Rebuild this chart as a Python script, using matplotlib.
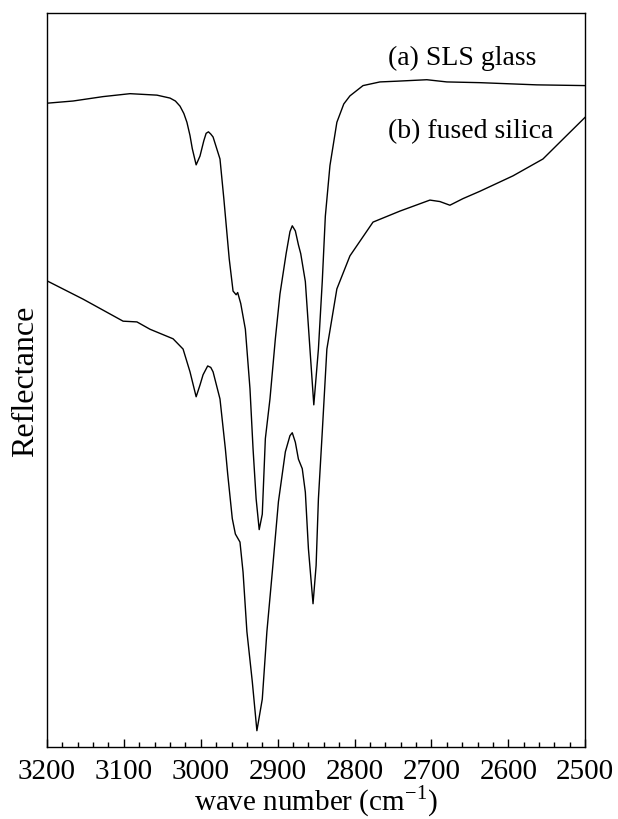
import matplotlib
matplotlib.use("Agg")
import matplotlib.pyplot as plt
from matplotlib.ticker import MultipleLocator

plt.rcParams["font.family"] = ["Liberation Serif", "DejaVu Serif"]
plt.rcParams["mathtext.fontset"] = "custom"
plt.rcParams["mathtext.rm"] = "Liberation Serif"

# (a) SLS glass (arbitrary reflectance units)
wn_a = [3200, 3166, 3127, 3092, 3057, 3040, 3033, 3027, 3022, 3018, 3014, 3011,
        3006, 3001, 2996, 2993, 2990, 2987, 2984, 2975, 2970, 2963, 2958, 2954,
        2952, 2948, 2942, 2936, 2932, 2928, 2924, 2920, 2916, 2910, 2903, 2897,
        2889, 2884, 2881, 2877, 2873, 2870, 2864, 2858, 2853, 2847, 2842, 2838,
        2832, 2823, 2814, 2806, 2789, 2767, 2745, 2706, 2680, 2637, 2563, 2500]
refl_a = [87.7, 88.0, 88.6, 89.0, 88.8, 88.4, 88.0, 87.3, 86.3, 85.1, 83.3, 81.5,
          79.3, 80.5, 82.6, 83.6, 83.8, 83.5, 83.1, 80.1, 74.7, 66.5, 62.1, 61.6,
          61.9, 60.4, 56.9, 48.8, 40.6, 33.8, 29.6, 31.7, 42.0, 47.4, 55.6, 61.7,
          67.2, 70.2, 71.0, 70.3, 68.4, 67.2, 63.4, 54.2, 46.6, 54.2, 63.4, 72.3,
          79.2, 85.1, 87.6, 88.7, 90.1, 90.6, 90.7, 90.9, 90.6, 90.5, 90.2, 90.1]

# (b) fused silica
wn_b = [3200, 3153, 3101, 3083, 3066, 3036, 3023, 3014, 3006, 3001, 2997, 2991,
        2987, 2984, 2975, 2968, 2965, 2959, 2955, 2949, 2945, 2940, 2933, 2927,
        2920, 2914, 2907, 2899, 2890, 2884, 2881, 2877, 2873, 2868, 2864, 2860,
        2854, 2850, 2847, 2842, 2836, 2823, 2806, 2776, 2741, 2702, 2689, 2676,
        2659, 2637, 2594, 2555, 2529, 2500]
refl_b = [63.5, 61.0, 58.0, 57.9, 56.9, 55.6, 54.2, 51.1, 47.7, 49.3, 50.7, 51.9,
          51.7, 51.1, 47.4, 40.6, 37.2, 31.1, 29.0, 27.9, 23.8, 15.7, 8.9, 2.2,
          6.5, 15.7, 23.8, 33.4, 40.2, 42.4, 42.8, 41.5, 39.2, 37.9, 34.7, 27.0,
          19.5, 24.7, 33.8, 42.9, 54.2, 62.4, 66.9, 71.5, 73.0, 74.5, 74.3, 73.8,
          74.7, 75.7, 77.8, 80.1, 82.8, 85.8]

labels = ["(a) SLS glass", "(b) fused silica"]

fig = plt.figure(figsize=(6.18, 8.2), dpi=100)
ax = fig.add_axes([0.076, 0.088, 0.871, 0.895])

ax.plot(wn_a, refl_a, color="black", lw=1.0)
ax.plot(wn_b, refl_b, color="black", lw=1.0)

ax.text(2756, 94.0, labels[0], fontsize=20, va="center", ha="left")
ax.text(2756, 84.0, labels[1], fontsize=20, va="center", ha="left")

ax.set_xlim(3200, 2500)
ax.set_ylim(0, 100)
ax.xaxis.set_major_locator(MultipleLocator(100))
ax.xaxis.set_minor_locator(MultipleLocator(20))
ax.tick_params(axis="x", which="major", direction="in", length=6, width=1, labelsize=21, pad=8)
ax.tick_params(axis="x", which="minor", direction="in", length=3.5, width=1)
ax.set_yticks([])
for sp in ax.spines.values():
    sp.set_linewidth(1.0)

ax.set_xlabel("wave number (cm$^{-1}$)", fontsize=21, labelpad=-1)
ax.set_ylabel("Reflectance", fontsize=23, labelpad=5)

fig.savefig("out.png", dpi=100)
